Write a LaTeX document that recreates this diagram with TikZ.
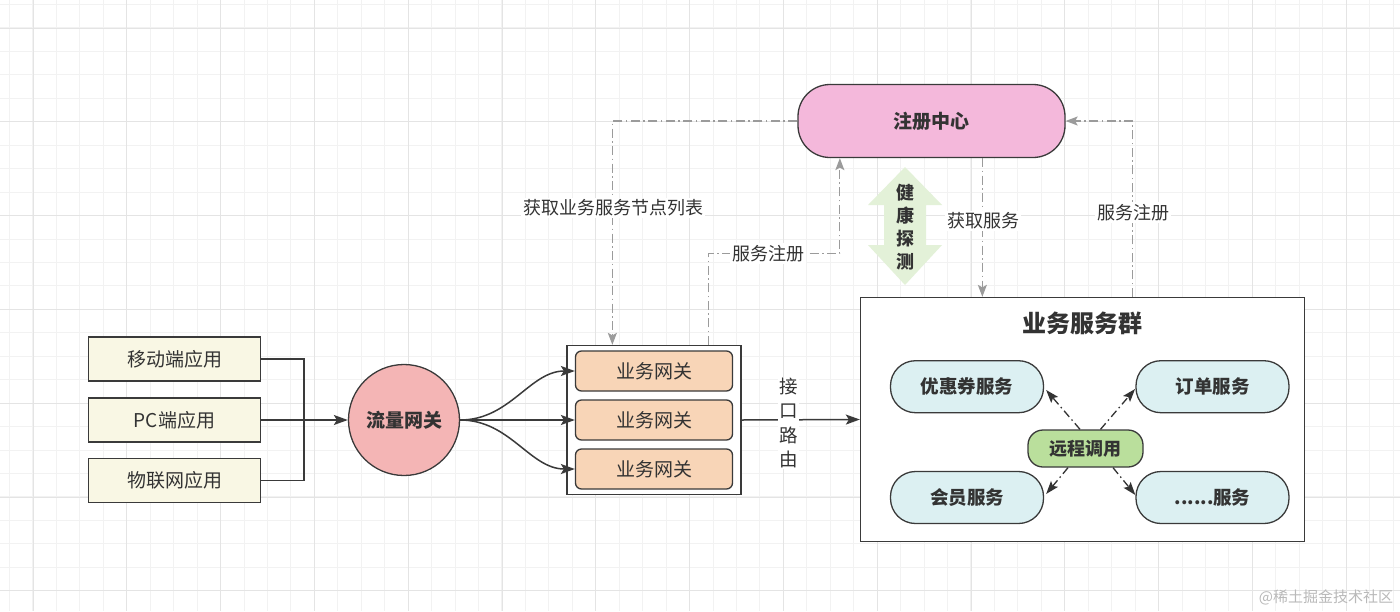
\documentclass[tikz,border=0pt]{standalone}
\usepackage{fontspec}
\setmainfont{Noto Sans CJK SC}
\usetikzlibrary{arrows.meta,calc}
\definecolor{gridA}{HTML}{F2F2F2}
\definecolor{gridB}{HTML}{E4E4E4}
\definecolor{ink}{HTML}{333333}
\definecolor{edge}{HTML}{3A3A3A}
\definecolor{clientfill}{HTML}{F9F7E4}
\definecolor{flowfill}{HTML}{F4B5B5}
\definecolor{gwfill}{HTML}{F8D5B7}
\definecolor{regfill}{HTML}{F4B8DB}
\definecolor{svcfill}{HTML}{DCF0F2}
\definecolor{rpcfill}{HTML}{BADF9C}
\definecolor{healthfill}{HTML}{E3F1D8}
\definecolor{dashgray}{HTML}{9B9B9B}
\tikzset{
  boxbase/.style={draw=edge, line width=1.3pt, text=ink, inner sep=0pt},
  regfont/.style={font=\fontsize{19}{23}\selectfont},
  boldfont/.style={font=\fontsize{19}{23}\selectfont\bfseries},
  client/.style={boxbase, regfont, fill=clientfill, minimum width=172, minimum height=44},
  gateway/.style={boxbase, regfont, fill=gwfill, rounded corners=6, minimum width=157, minimum height=40},
  svc/.style={boxbase, font=\fontsize{18.5}{22}\selectfont\bfseries, fill=svcfill, rounded corners=25, minimum width=153, minimum height=52},
  conn/.style={draw=edge, line width=1.5pt},
  blackarrow/.style={conn, -{Stealth[length=14pt,width=10pt,inset=3pt]}},
  ddgray/.style={draw=dashgray, line width=1.2pt, dash pattern=on 9pt off 3.5pt on 1.5pt off 3.5pt,
     -{Stealth[length=12pt,width=9pt,inset=2.5pt]}},
  rpcarrow/.style={draw=ink, line width=1.3pt, dash pattern=on 8pt off 3.5pt on 1.5pt off 3.5pt,
     -{Stealth[length=13pt,width=9pt,inset=2.5pt]}},
  lbl/.style={fill=white, text=ink, inner sep=2pt, font=\fontsize{18}{22}\selectfont},
}
\begin{document}
\begin{tikzpicture}[x=1pt,y=-1pt]
\useasboundingbox (0,0) rectangle (1400,611);
\fill[white] (0,0) rectangle (1400,611);
% grid
\foreach \i in {0,...,60} \draw[gridA, line width=1pt] (9.5+23.45*\i,0) -- (9.5+23.45*\i,611);
\foreach \i in {0,...,26} \draw[gridA, line width=1pt] (0,4.5+23.45*\i) -- (1400,4.5+23.45*\i);
\foreach \i in {0,...,14} \draw[gridB, line width=1pt] (33+93.8*\i,0) -- (33+93.8*\i,611);
\foreach \i in {0,...,6} \draw[gridB, line width=1pt] (0,28+93.8*\i) -- (1400,28+93.8*\i);

% clients
\node[client] (mobile) at (174.5,359) {移动端应用};
\node[client] (pc) at (174.5,420) {PC端应用};
\node[client] (iot) at (174.5,480.5) {物联网应用};
\node[circle, boxbase, boldfont, fill=flowfill, minimum size=111] (flow) at (404,420) {流量网关};
\coordinate (join) at (304,420);
\draw[conn] (mobile.east) -| (join) |- (iot.east);
\draw[blackarrow] (pc.east) -- (flow.west);

% gateways
\node[boxbase, fill=white, minimum width=174, minimum height=149] (gwgroup) at (654,420) {};
\node[gateway] (gw1) at (654,371) {业务网关};
\node[gateway] (gw2) at (654,420) {业务网关};
\node[gateway] (gw3) at (654,469) {业务网关};
\draw[blackarrow] (flow.east) .. controls +(50,0) and +(-45,0) .. (gw1.west);
\draw[blackarrow] (flow.east) -- (gw2.west);
\draw[blackarrow] (flow.east) .. controls +(50,0) and +(-45,0) .. (gw3.west);

% business service group
\node[boxbase, fill=white, minimum width=444, minimum height=244] (group) at (1082.5,419.5) {};
\node[text=ink, font=\fontsize{24}{28}\selectfont\bfseries] (grouptitle) at (1082.5,323) {业务服务群};
\draw[blackarrow] (gwgroup.east) -- (group.west);
\node[lbl, align=center, inner sep=1pt, font=\fontsize{18.5}{24.5}\selectfont] (route) at (788.5,423) {接\\口\\路\\由};

\node[svc] (coupon) at (967,386.7) {优惠券服务};
\node[svc] (order) at (1212.5,386.7) {订单服务};
\node[svc] (member) at (967,497.5) {会员服务};
\node[svc] (other) at (1212.5,497.5) {......服务};
\node[boxbase, font=\fontsize{18}{22}\selectfont\bfseries, fill=rpcfill, rounded corners=15, minimum width=115, minimum height=37] (rpc) at (1085.5,448.5) {远程调用};
\draw[rpcarrow] ($(rpc.north)+(-5.5,0)$) -- ($(coupon.east)+(2,3.3)$);
\draw[rpcarrow] ($(rpc.north)+(15,0)$) -- ($(order.west)+(-0.3,2.3)$);
\draw[rpcarrow] ($(rpc.south)+(-17.5,0)$) -- ($(member.east)+(2,-3.5)$);
\draw[rpcarrow] ($(rpc.south)+(27.5,0)$) -- ($(other.west)+(0,-2.5)$);

% registry
\node[boxbase, boldfont, fill=regfill, rounded corners=32, minimum width=267, minimum height=73] (reg) at (931.5,121) {注册中心};

% health check double arrow
\fill[healthfill] (905,167) -- (942,205) -- (926,205) -- (926,245) -- (942,245) -- (905,285)
  -- (868,245) -- (884,245) -- (884,205) -- (868,205) -- cycle;
\node[text=ink, align=center, inner sep=0pt, font=\fontsize{18}{23}\selectfont\bfseries] (health) at (905,227) {健\\康\\探\\测};

% dash-dot registry connectors
\draw[ddgray] (reg.west) -| ($(gwgroup.north west)+(46,0)$);
\node[lbl] (lblfetchlist) at (613,208) {获取业务服务节点列表};
\coordinate (regin) at ($(reg.south west)+(42.5,0)$);
\draw[ddgray] ($(gwgroup.north west)+(142,0)$) |- ($(regin)+(0,95.5)$) -- (regin);
\node[lbl] (lblreg1) at (768,253.5) {服务注册};
\draw[ddgray] ($(reg.south west)+(185,0)$) -- ($(group.north west)+(122.5,0)$);
\node[lbl] (lblfetch) at (983,221) {获取服务};
\draw[ddgray] ($(group.north west)+(272.5,0)$) |- (reg.east);
\node[lbl] (lblreg2) at (1133,212.5) {服务注册};

% watermark
\node[text=gray!55, font=\fontsize{15}{18}\selectfont] (wm) at (1326,597) {@稀土掘金技术社区};
\end{tikzpicture}
\end{document}
